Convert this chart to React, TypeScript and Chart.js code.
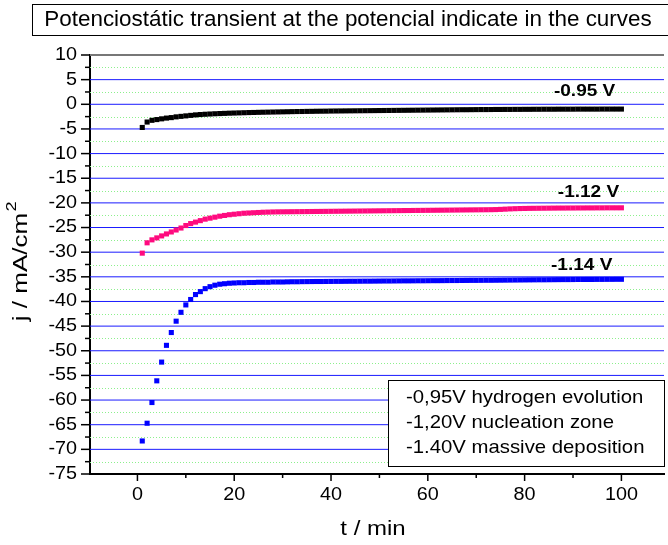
import { useEffect, useRef } from 'react';
import { Chart, registerables } from 'chart.js';

Chart.register(...registerables);

// ---------- data ----------
const times = [
  1, 2, 3, 4, 5, 6, 7, 8, 9, 10,
  11, 12, 13, 14, 15, 16, 17, 18, 19, 20,
  21, 22, 23, 24, 25, 26, 27, 28, 29, 30,
  31, 32, 33, 34, 35, 36, 37, 38, 39, 40,
  41, 42, 43, 44, 45, 46, 47, 48, 49, 50,
  51, 52, 53, 54, 55, 56, 57, 58, 59, 60,
  61, 62, 63, 64, 65, 66, 67, 68, 69, 70,
  71, 72, 73, 74, 75, 76, 77, 78, 79, 80,
  81, 82, 83, 84, 85, 86, 87, 88, 89, 90,
  91, 92, 93, 94, 95, 96, 97, 98, 99, 100,
];

const jMinus095 = [
  -4.7, -3.6, -3.25, -3.1, -2.95, -2.8, -2.7, -2.55, -2.45, -2.35,
  -2.25, -2.15, -2.08, -2.02, -1.97, -1.92, -1.88, -1.84, -1.8, -1.77,
  -1.74, -1.71, -1.68, -1.66, -1.63, -1.61, -1.59, -1.57, -1.55, -1.53,
  -1.51, -1.49, -1.47, -1.46, -1.44, -1.43, -1.41, -1.4, -1.39, -1.37,
  -1.36, -1.35, -1.34, -1.33, -1.32, -1.31, -1.3, -1.29, -1.28, -1.27,
  -1.26, -1.25, -1.24, -1.23, -1.22, -1.21, -1.2, -1.19, -1.18, -1.17,
  -1.16, -1.15, -1.14, -1.13, -1.12, -1.11, -1.1, -1.1, -1.09, -1.08,
  -1.07, -1.07, -1.06, -1.05, -1.05, -1.04, -1.04, -1.03, -1.03, -1.02,
  -1.02, -1.01, -1.01, -1.0, -1.0, -1.0, -0.99, -0.99, -0.99, -0.99,
  -0.98, -0.98, -0.98, -0.98, -0.98, -0.97, -0.97, -0.97, -0.97, -0.97,
];

const jMinus112 = [
  -30.2, -28.1, -27.5, -27.1, -26.7, -26.3, -25.9, -25.5, -25.1, -24.6,
  -24.2, -23.9, -23.6, -23.3, -23.1, -22.9, -22.7, -22.55, -22.4, -22.3,
  -22.2, -22.1, -22.05, -22.0, -21.95, -21.9, -21.87, -21.84, -21.82, -21.81,
  -21.8, -21.79, -21.78, -21.77, -21.76, -21.75, -21.74, -21.73, -21.72, -21.71,
  -21.7, -21.69, -21.68, -21.67, -21.66, -21.65, -21.64, -21.63, -21.62, -21.61,
  -21.6, -21.59, -21.58, -21.57, -21.56, -21.55, -21.54, -21.53, -21.52, -21.51,
  -21.5, -21.49, -21.48, -21.47, -21.46, -21.45, -21.44, -21.43, -21.42, -21.41,
  -21.4, -21.39, -21.38, -21.36, -21.32, -21.27, -21.22, -21.18, -21.15, -21.13,
  -21.11, -21.1, -21.09, -21.08, -21.07, -21.06, -21.05, -21.05, -21.04, -21.04,
  -21.03, -21.03, -21.02, -21.02, -21.01, -21.01, -21.0, -21.0, -21.0, -21.0,
];

const jMinus114 = [
  -68.3, -64.7, -60.5, -56.1, -52.3, -48.9, -46.3, -44.0, -42.2, -40.7,
  -39.6, -38.6, -38.0, -37.4, -37.0, -36.7, -36.5, -36.4, -36.3, -36.25,
  -36.2, -36.2, -36.15, -36.15, -36.1, -36.1, -36.1, -36.05, -36.05, -36.05,
  -36.02, -36.0, -36.0, -35.98, -35.97, -35.96, -35.95, -35.95, -35.94, -35.93,
  -35.92, -35.92, -35.91, -35.9, -35.9, -35.89, -35.88, -35.88, -35.87, -35.86,
  -35.85, -35.85, -35.84, -35.83, -35.82, -35.82, -35.81, -35.8, -35.8, -35.79,
  -35.78, -35.78, -35.77, -35.76, -35.75, -35.75, -35.74, -35.73, -35.72, -35.72,
  -35.71, -35.7, -35.7, -35.69, -35.68, -35.67, -35.66, -35.65, -35.64, -35.63,
  -35.62, -35.61, -35.6, -35.6, -35.59, -35.58, -35.57, -35.56, -35.56, -35.55,
  -35.54, -35.54, -35.53, -35.53, -35.52, -35.52, -35.51, -35.51, -35.5, -35.5,
];

const seriesNames = ['-0.95 V', '-1.12 V', '-1.14 V'];
const seriesColors = ['#000000', '#ff0a7f', '#0000ff'];
// label anchor (data coordinates) for each curve name
const labelAnchorT = [92.4, 93.2, 91.8];
const labelAnchorJ = [2.7, -17.8, -32.7];

const yTicks = [10, 5, 0, -5, -10, -15, -20, -25, -30, -35, -40, -45, -50, -55, -60, -65, -70, -75];
const yMinorTicks = [7.5, 2.5, -2.5, -7.5, -12.5, -17.5, -22.5, -27.5, -32.5, -37.5, -42.5, -47.5, -52.5, -57.5, -62.5, -67.5, -72.5];
const xTicks = [0, 20, 40, 60, 80, 100];
const xMinorTicks = [10, 30, 50, 70, 90];

const titleText = 'Potenciostátic transient at the potencial indicate in the curves';
const xTitle = 't / min';
const yTitleMain = 'j / mA/cm';
const yTitleSup = '2';
const legendLines = ['-0,95V hydrogen evolution', '-1,20V nucleation zone', '-1.40V massive deposition'];

// ---------- drawing helpers ----------
const FONT = '"Liberation Sans", Arial, Helvetica, sans-serif';

function drawText(
  ctx: CanvasRenderingContext2D,
  text: string,
  x: number,
  y: number,
  font: string,
  align: CanvasTextAlign,
  sx = 1,
  rot = 0,
) {
  ctx.save();
  ctx.translate(x, y);
  if (rot) ctx.rotate(rot);
  ctx.scale(sx, 1);
  ctx.font = font;
  ctx.textAlign = align;
  ctx.textBaseline = 'middle';
  ctx.fillStyle = '#000';
  ctx.fillText(text, 0, 0);
  ctx.restore();
}

const decorPlugin = {
  id: 'decor',
  beforeDatasetsDraw(chart: any) {
    const { ctx, chartArea } = chart;
    const ys = chart.scales.y;
    const { left, right } = chartArea;
    ctx.save();
    // minor dotted grid
    ctx.strokeStyle = '#8cf08c';
    ctx.lineWidth = 1;
    ctx.setLineDash([1, 2]);
    yMinorTicks.forEach((v) => {
      const p = Math.round(ys.getPixelForValue(v)) + 0.5;
      ctx.beginPath();
      ctx.moveTo(left, p);
      ctx.lineTo(right, p);
      ctx.stroke();
    });
    ctx.setLineDash([]);
    // major grid
    ctx.strokeStyle = '#1a1aff';
    yTicks.forEach((v) => {
      if (v === 10 || v === -75) return;
      const p = ys.getPixelForValue(v);
      ctx.beginPath();
      ctx.moveTo(left, p);
      ctx.lineTo(right, p);
      ctx.stroke();
    });
    // top frame
    ctx.strokeStyle = '#777777';
    ctx.lineWidth = 2;
    const pt = ys.getPixelForValue(10);
    ctx.beginPath();
    ctx.moveTo(left, pt);
    ctx.lineTo(right, pt);
    ctx.stroke();
    ctx.restore();
  },
  afterDraw(chart: any) {
    const { ctx, chartArea } = chart;
    const xs = chart.scales.x;
    const ys = chart.scales.y;
    const { left, bottom } = chartArea;
    ctx.save();
    ctx.strokeStyle = '#000';
    ctx.lineWidth = 1.5;
    // y ticks
    yTicks.forEach((v) => {
      const p = ys.getPixelForValue(v);
      ctx.beginPath();
      ctx.moveTo(left - 9, p);
      ctx.lineTo(left, p);
      ctx.stroke();
      drawText(ctx, String(v), left - 13, p, `18px ${FONT}`, 'right', 1.1);
    });
    yMinorTicks.forEach((v) => {
      const p = ys.getPixelForValue(v);
      ctx.beginPath();
      ctx.moveTo(left - 5, p);
      ctx.lineTo(left, p);
      ctx.stroke();
    });
    // x ticks
    xTicks.forEach((v) => {
      const p = xs.getPixelForValue(v);
      ctx.beginPath();
      ctx.moveTo(p, bottom);
      ctx.lineTo(p, bottom + 7);
      ctx.stroke();
      drawText(ctx, String(v), p, bottom + 21, `18px ${FONT}`, 'center', 1.1);
    });
    xMinorTicks.forEach((v) => {
      const p = xs.getPixelForValue(v);
      ctx.beginPath();
      ctx.moveTo(p, bottom);
      ctx.lineTo(p, bottom + 4);
      ctx.stroke();
    });
    // axis titles
    drawText(ctx, xTitle, (chartArea.left + chartArea.right) / 2 - 4, 529, `20px ${FONT}`, 'center', 1.2);
    {
      const sxy = 1.3;
      ctx.save();
      ctx.font = `20px ${FONT}`;
      const wMain = ctx.measureText(yTitleMain).width * sxy;
      ctx.font = `14px ${FONT}`;
      const wSup = ctx.measureText(yTitleSup).width * sxy;
      ctx.restore();
      const cy = 262;
      const total = wMain + wSup;
      const startY = cy + total / 2; // rotated: text grows upward
      ctx.save();
      ctx.translate(21, startY);
      ctx.rotate(-Math.PI / 2);
      ctx.scale(sxy, 1);
      ctx.fillStyle = '#000';
      ctx.textBaseline = 'middle';
      ctx.textAlign = 'left';
      ctx.font = `20px ${FONT}`;
      ctx.fillText(yTitleMain, 0, 0);
      ctx.font = `14px ${FONT}`;
      ctx.fillText(yTitleSup, wMain / sxy + 1, -9);
      ctx.restore();
    }
    // curve names
    seriesNames.forEach((name, i) => {
      const px = xs.getPixelForValue(labelAnchorT[i]);
      const py = ys.getPixelForValue(labelAnchorJ[i]);
      drawText(ctx, name, px, py, `bold 17px ${FONT}`, 'center', 1.12);
    });
    // legend box
    const lx = 388, ly = 380, lw = 276, lh = 86;
    ctx.fillStyle = '#fff';
    ctx.fillRect(lx, ly, lw, lh);
    ctx.strokeStyle = '#000';
    ctx.lineWidth = 1;
    ctx.strokeRect(lx + 0.5, ly + 0.5, lw, lh);
    legendLines.forEach((t, i) => {
      drawText(ctx, t, 406, 398 + i * 25, `19px ${FONT}`, 'left', 1.07);
    });
    // title box
    ctx.fillStyle = '#fff';
    ctx.fillRect(32, 4, 640, 32);
    ctx.strokeStyle = '#000';
    ctx.lineWidth = 1;
    ctx.strokeRect(32.5, 4.5, 640, 31);
    drawText(ctx, titleText, 348, 20, `22px ${FONT}`, 'center', 1.02);
    ctx.restore();
  },
};

export default function App() {
  const canvasRef = useRef<HTMLCanvasElement | null>(null);

  useEffect(() => {
    if (!canvasRef.current) return;
    const seriesValues = [jMinus095, jMinus112, jMinus114];
    const chart = new Chart(canvasRef.current, {
      type: 'scatter',
      data: {
        datasets: seriesValues.map((vals, i) => ({
          label: seriesNames[i],
          data: times.map((t, k) => ({ x: t, y: vals[k] })),
          backgroundColor: seriesColors[i],
          borderColor: seriesColors[i],
          pointStyle: 'rect',
          pointRadius: 3.6,
          pointBorderWidth: 0,
          showLine: false,
        })),
      },
      options: {
        animation: false,
        responsive: false,
        maintainAspectRatio: false,
        layout: { padding: { top: 55, left: 0, right: 0, bottom: 0 } },
        plugins: {
          legend: { display: false },
          tooltip: { enabled: false },
          title: { display: false },
        },
        scales: {
          x: {
            type: 'linear',
            min: -9.8,
            max: 108.8,
            ticks: { display: false },
            grid: { display: false },
            border: { display: true, color: '#000', width: 2 },
            afterFit: (s: any) => {
              s.height = 71;
            },
          },
          y: {
            type: 'linear',
            min: -75,
            max: 10,
            ticks: { display: false },
            grid: { display: false },
            border: { display: true, color: '#000', width: 2 },
            afterFit: (s: any) => {
              s.width = 90;
            },
          },
        },
      },
      plugins: [decorPlugin],
    } as any);
    return () => chart.destroy();
  }, []);

  return (
    <div style={{ position: 'absolute', left: 0, top: 0, width: 668, height: 545, background: '#fff' }}>
      <canvas ref={canvasRef} width={668} height={545} style={{ display: 'block' }} />
    </div>
  );
}
